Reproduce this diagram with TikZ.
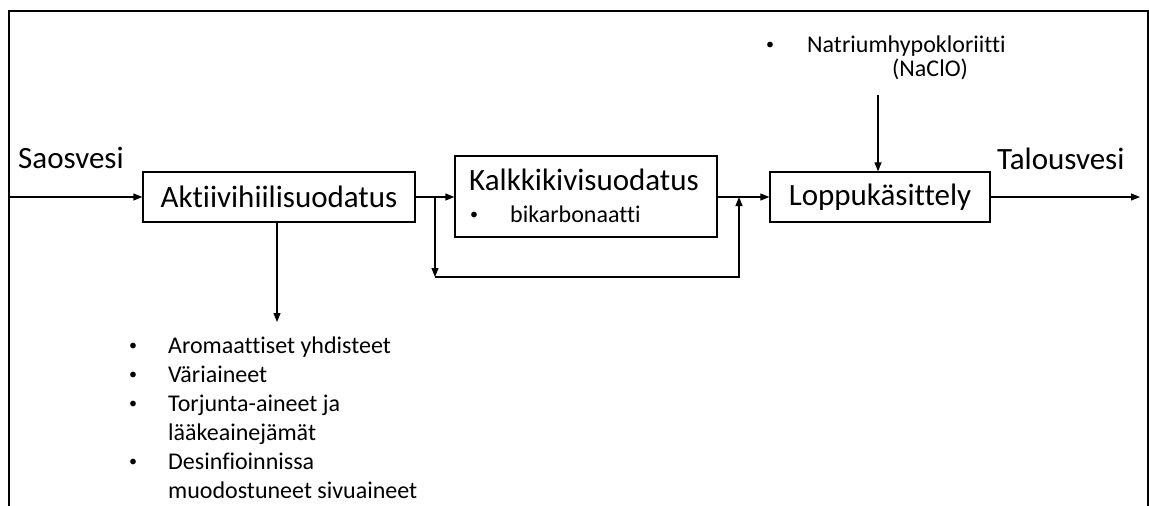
\documentclass[tikz,border=0pt]{standalone}
\usepackage{fontspec}
\setmainfont{Carlito}[Ligatures=NoCommon]
\usetikzlibrary{arrows.meta}
\newcommand{\pallo}{{\fontsize{16}{16}\selectfont •}}

\begin{document}
\begin{tikzpicture}[x=1pt,y=-1pt,
  box/.style={draw,line width=1.3pt,rectangle,inner sep=0pt},
  arr/.style={line width=1.1pt,-{Triangle[length=9pt,width=7pt]}},
  bigtext/.style={font=\fontsize{31}{36}\selectfont},
  smalltext/.style={font=\fontsize{24}{29}\selectfont,inner sep=0pt}]

\useasboundingbox (0,0) rectangle (1149,506);

\draw[line width=2.2pt] (9,506) -- (9,11) -- (1148,11) -- (1148,506);

% process boxes
\node[box,bigtext,minimum width=272pt,minimum height=50pt] (akt) at (279,197) {Aktiivihiilisuodatus};
\node[box,minimum width=262pt,minimum height=81pt] (kalk) at (586,196.5) {};
\node[bigtext,anchor=base,inner sep=0pt] (kalkt) at (584,190) {Kalkkikivisuodatus};
\node[smalltext,anchor=base] (kbul) at (474,219) {\pallo};
\node[smalltext,anchor=base west] (bik) at (510,222) {bikarbonaatti};
\node[box,bigtext,minimum width=220pt,minimum height=50pt] (lop) at (880,197) {Loppukäsittely};

% inlet and outlet
\node[bigtext,anchor=base west,inner sep=0pt] (sao) at (18,168) {Saosvesi};
\node[bigtext,anchor=base west,inner sep=0pt] (tal) at (997,169) {Talousvesi};

% chemicals
\node[smalltext,anchor=base] (nbul) at (770,49) {\pallo};
\node[smalltext,anchor=base west] (natr) at (807,52) {Natriumhypokloriitti};
\node[smalltext,anchor=base west] (nacl) at (892,76) {(NaClO)};

% removed substances
\node[smalltext,anchor=base west] (lista) at (129,353) {\begin{tabular}[t]{@{}p{39pt}@{}l@{}}
\raisebox{3pt}{\pallo} & Aromaattiset yhdisteet\\
\raisebox{3pt}{\pallo} & Väriaineet\\
\raisebox{3pt}{\pallo} & Torjunta-aineet ja\\
  & lääkeainejämät\\
\raisebox{3pt}{\pallo} & Desinfioinnissa\\
  & muodostuneet sivuaineet
\end{tabular}};

% connectors
\coordinate (inl) at (9,197);
\coordinate (split) at (435,197);
\coordinate (ohitus) at (435,277);
\coordinate (yhd) at (739,197);
\coordinate (ulos) at (1140,197);
\coordinate (lisays) at (878,95);
\coordinate (poisto) at (277,322);

\draw[arr] (inl) -- (akt.west);
\draw[arr] (akt.east) -- (akt.east -| kalk.west);
\draw[arr] (split) -- (ohitus);
\draw[arr] (ohitus) -| (yhd);
\draw[arr] (kalk.east |- lop.west) -- (lop.west);
\draw[arr] (lop.east) -- (ulos);
\draw[arr] (lisays) -- (lisays |- lop.north);
\draw[arr] (poisto |- akt.south) -- (poisto);
\end{tikzpicture}
\end{document}
